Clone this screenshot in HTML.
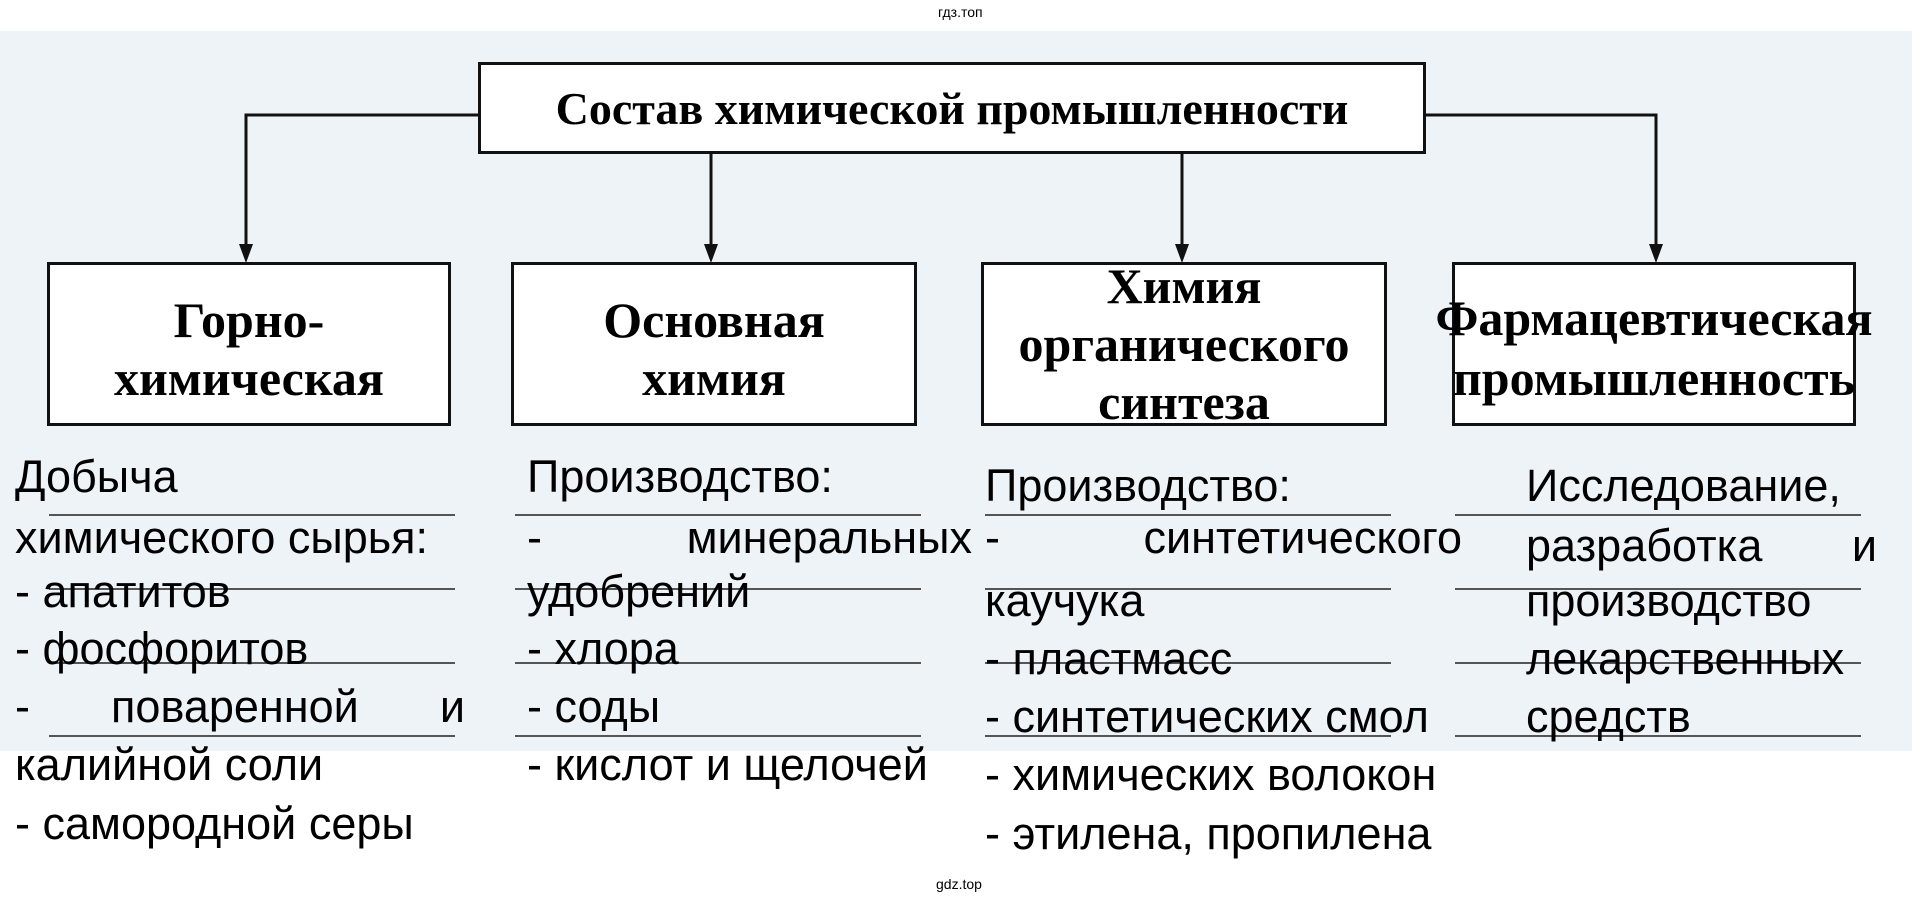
<!DOCTYPE html>
<html><head><meta charset="utf-8"><style>
body{margin:0;width:1920px;height:901px;background:#fff;position:relative;overflow:hidden;font-family:"Liberation Sans",sans-serif}
.bg{position:absolute;left:0;top:31px;width:1912px;height:720px;background:#eef3f7}
.box{position:absolute;border:3px solid #111;background:#fff;box-sizing:border-box;display:flex;align-items:center;justify-content:center;text-align:center;font-family:"Liberation Serif",serif;font-weight:bold;color:#000}
.t{position:absolute;font-size:45px;color:#000;white-space:nowrap;line-height:50px}
.j{display:flex;justify-content:space-between}
.ul{position:absolute;height:2px;background:#555}
.small{position:absolute;font-size:14px;color:#000}
</style></head><body>
<div class="small" style="left:938px;top:4px">гдз.топ</div>
<div class="small" style="left:936px;top:876px">gdz.top</div>
<div class="bg"></div>
<svg style="position:absolute;left:0;top:0" width="1920" height="901">
<g stroke="#111" stroke-width="3" fill="none">
<polyline points="478,115 246,115 246,250"/>
<polyline points="1426,115 1656,115 1656,250"/>
<line x1="711" y1="154" x2="711" y2="250"/>
<line x1="1182" y1="154" x2="1182" y2="250"/>
</g>
<g fill="#111">
<polygon points="239,244 253,244 246,263"/>
<polygon points="1649,244 1663,244 1656,263"/>
<polygon points="704,244 718,244 711,263"/>
<polygon points="1175,244 1189,244 1182,263"/>
</g>
</svg>
<div class="box" style="left:478px;top:62px;width:948px;height:92px;font-size:46px;white-space:nowrap">Состав химической промышленности</div>
<div class="box" style="left:47px;top:262px;width:404px;height:164px;font-size:50px;line-height:58px;padding-top:10px">Горно-<br>химическая</div>
<div class="box" style="left:511px;top:262px;width:406px;height:164px;font-size:50px;line-height:58px;padding-top:10px">Основная<br>химия</div>
<div class="box" style="left:981px;top:262px;width:406px;height:164px;font-size:50px;line-height:58px">Химия<br>органического<br>синтеза</div>
<div class="box" style="left:1452px;top:262px;width:404px;height:164px;font-size:50px;line-height:60px;white-space:nowrap;overflow:visible;padding-top:8px">Фармацевтическая<br>промышленность</div>

<div class="ul" style="left:49px;top:514px;width:406px"></div>
<div class="ul" style="left:49px;top:588px;width:406px"></div>
<div class="ul" style="left:49px;top:662px;width:406px"></div>
<div class="ul" style="left:49px;top:735px;width:406px"></div>
<div class="ul" style="left:515px;top:514px;width:406px"></div>
<div class="ul" style="left:515px;top:588px;width:406px"></div>
<div class="ul" style="left:515px;top:662px;width:406px"></div>
<div class="ul" style="left:515px;top:735px;width:406px"></div>
<div class="ul" style="left:985px;top:514px;width:406px"></div>
<div class="ul" style="left:985px;top:588px;width:406px"></div>
<div class="ul" style="left:985px;top:662px;width:406px"></div>
<div class="ul" style="left:985px;top:735px;width:406px"></div>
<div class="ul" style="left:1455px;top:514px;width:406px"></div>
<div class="ul" style="left:1455px;top:588px;width:406px"></div>
<div class="ul" style="left:1455px;top:662px;width:406px"></div>
<div class="ul" style="left:1455px;top:735px;width:406px"></div>

<div class="t" style="left:15px;top:452px">Добыча</div>
<div class="t" style="left:15px;top:513px">химического сырья:</div>
<div class="t" style="left:15px;top:567px">- апатитов</div>
<div class="t" style="left:15px;top:624px">- фосфоритов</div>
<div class="t j" style="left:15px;top:682px;width:450px"><span>-</span><span>поваренной</span><span>и</span></div>
<div class="t" style="left:15px;top:740px">калийной соли</div>
<div class="t" style="left:15px;top:799px">- самородной серы</div>

<div class="t" style="left:527px;top:452px">Производство:</div>
<div class="t j" style="left:527px;top:513px;width:445px"><span>-</span><span>минеральных</span></div>
<div class="t" style="left:527px;top:567px">удобрений</div>
<div class="t" style="left:527px;top:624px">- хлора</div>
<div class="t" style="left:527px;top:682px">- соды</div>
<div class="t" style="left:527px;top:740px">- кислот и щелочей</div>

<div class="t" style="left:985px;top:461px">Производство:</div>
<div class="t j" style="left:985px;top:513px;width:477px"><span>-</span><span>синтетического</span></div>
<div class="t" style="left:985px;top:576px">каучука</div>
<div class="t" style="left:985px;top:634px">- пластмасс</div>
<div class="t" style="left:985px;top:692px">- синтетических смол</div>
<div class="t" style="left:985px;top:750px">- химических волокон</div>
<div class="t" style="left:985px;top:809px">- этилена, пропилена</div>

<div class="t" style="left:1526px;top:461px">Исследование,</div>
<div class="t j" style="left:1526px;top:521px;width:351px"><span>разработка</span><span>и</span></div>
<div class="t" style="left:1526px;top:576px">производство</div>
<div class="t" style="left:1526px;top:634px">лекарственных</div>
<div class="t" style="left:1526px;top:692px">средств</div>
</body></html>
